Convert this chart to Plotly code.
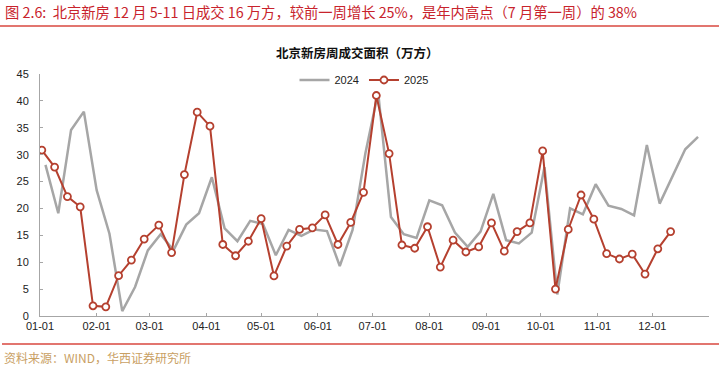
import pandas as pd
import plotly.graph_objects as go

# ---- data (万方, weekly) ----
values_2024 = [28.1, 19.1, 34.6, 38.0, 23.4, 15.3, 0.9, 5.4, 12.2, 15.2, 12.2, 17.0, 19.1,
               25.8, 16.3, 13.9, 17.7, 17.1, 11.3, 16.0, 14.9, 16.1, 15.8, 9.3, 16.0, 30.2, 41.6,
               18.4, 15.2, 14.5, 21.5, 20.6, 15.5, 12.85, 15.7, 22.7, 14.1, 13.5, 15.5,
               27.7, 4.0, 20.0, 18.9, 24.5, 20.5, 19.9, 18.7, 31.8, 20.9, 25.9, 31.0, 33.3]
values_2025 = [30.85, 27.7, 22.2, 20.3, 1.9, 1.7, 7.5, 10.4, 14.3, 16.9, 11.8, 26.3, 37.9,
               35.3, 13.3, 11.2, 13.9, 18.1, 7.45, 13.0, 16.1, 16.4, 18.8, 13.3, 17.4, 23.0, 41.0,
               30.2, 13.2, 12.6, 16.6, 9.1, 14.1, 11.9, 12.85, 17.3, 12.05, 15.7, 17.3,
               30.7, 5.0, 16.1, 22.5, 18.0, 11.6, 10.6, 11.5, 7.8, 12.5, 15.7]

dates_2024 = pd.date_range("2024-01-04", periods=len(values_2024), freq="7D")
dates_2025 = pd.date_range("2025-01-02", periods=len(values_2025), freq="7D")
# show both years on a common month-day axis
x_2024 = list(dates_2024)
x_2025 = [d.replace(year=2024) for d in dates_2025]

tick_vals = list(pd.date_range("2024-01-01", "2025-01-01", freq="MS"))
tick_text = ["01-01", "02-01", "03-01", "04-01", "05-01", "06-01", "07-01",
             "08-01", "09-01", "10-01", "11-01", "12-01", ""]

title_text = "图 2.6:  北京新房 12 月 5-11 日成交 16 万方，较前一周增长 25%，是年内高点（7 月第一周）的 38%"
chart_title = "北京新房周成交面积（万方）"
source_text = "资料来源：WIND，华西证券研究所"

FONT = "Liberation Sans, Arial, Noto Sans CJK SC, sans-serif"
CJK = "Noto Sans CJK SC, Liberation Sans, sans-serif"
GRAY = "#A6A6A6"
RED = "#B5402F"
TITLE_RED = "#C8232C"

W, H = 719, 369
L, R, T, B = 40, 10, 74, 53
pw = W - L - R
ph = H - T - B


def px(xp):
    return (xp - L) / pw


def py(yp):
    return (H - B - yp) / ph


fig = go.Figure()
fig.add_trace(go.Scatter(x=x_2024, y=values_2024, name="2024", mode="lines",
                         line=dict(color=GRAY, width=2.5)))
fig.add_trace(go.Scatter(x=x_2025, y=values_2025, name="2025", mode="lines+markers",
                         line=dict(color=RED, width=2),
                         marker=dict(symbol="circle", size=7, color="white",
                                     line=dict(color=RED, width=1.8))))

fig.update_layout(
    width=W, height=H,
    margin=dict(l=L, r=R, t=T, b=B, pad=0),
    paper_bgcolor="white", plot_bgcolor="white",
    font=dict(family=FONT, size=11, color="#222222"),
    showlegend=True,
    legend=dict(orientation="h", x=px(364), y=py(80), xanchor="center", yanchor="middle",
                font=dict(size=11, color="#222222"), bgcolor="rgba(0,0,0,0)"),
    xaxis=dict(type="date", range=["2024-01-01", "2025-01-01"],
               tickvals=tick_vals, ticktext=tick_text,
               ticks="inside", ticklen=3, tickcolor=GRAY, tickwidth=1,
               showline=True, linecolor=GRAY, linewidth=1,
               showgrid=False, zeroline=False,
               tickfont=dict(size=11, color="#222222")),
    yaxis=dict(range=[0, 45], dtick=5, tick0=0,
               ticks="inside", ticklen=3, tickcolor=GRAY, tickwidth=1,
               showline=True, linecolor=GRAY, linewidth=1,
               showgrid=False, zeroline=False,
               ticklabelstandoff=8,
               tickfont=dict(size=11, color="#222222")),
    shapes=[
        dict(type="line", xref="paper", yref="paper", x0=px(0), x1=px(719),
             y0=py(26), y1=py(26), line=dict(color="#D9473F", width=1.5)),
        dict(type="line", xref="paper", yref="paper", x0=px(2), x1=px(719),
             y0=py(344), y1=py(344), line=dict(color="#D9473F", width=1.5)),
    ],
    annotations=[
        dict(text=title_text, xref="paper", yref="paper", x=px(3), y=py(12),
             xanchor="left", yanchor="middle", showarrow=False,
             font=dict(family=CJK, size=14.3, color=TITLE_RED)),
        dict(text="<b>" + chart_title + "</b>", xref="paper", yref="paper", x=px(357), y=py(52),
             xanchor="center", yanchor="middle", showarrow=False,
             font=dict(family=CJK, size=12.5, color="#111111")),
        dict(text=source_text, xref="paper", yref="paper", x=px(2), y=py(357),
             xanchor="left", yanchor="middle", showarrow=False,
             font=dict(family=CJK, size=12, color="#C9A063")),
    ],
)

fig.write_html("out.html",
               config={"displayModeBar": False},
               post_script="document.body.style.margin='0';document.body.style.padding='0';")
